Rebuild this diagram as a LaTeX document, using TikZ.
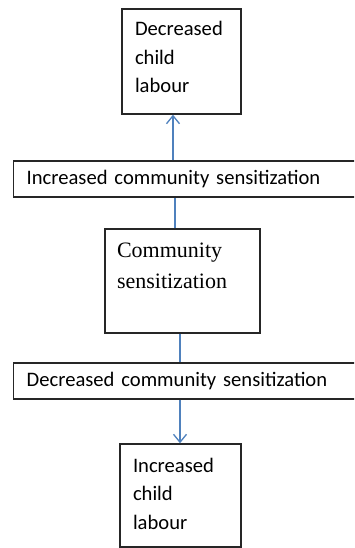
\documentclass[tikz,border=0pt]{standalone}
\usepackage{fontspec}
\newfontfamily\calibfont{Carlito}
\newfontfamily\timesfont{Liberation Serif}
\usetikzlibrary{arrows.meta}
\definecolor{linkblue}{RGB}{79,129,189}

\begin{document}
\begin{tikzpicture}[
    x=1pt, y=-1pt,
    box/.style={draw=black!85, line width=1.4pt, align=left, inner ysep=0pt,
        font=\calibfont\fontsize{20.6}{28.5}\selectfont},
    bar/.style={box, anchor=west, inner xsep=13pt, minimum height=36pt, text width=340pt},
    link/.style={draw=linkblue, line width=1.3pt},
    arrow/.style={link, -{Straight Barb[length=8pt,width=13pt]}}
]
    \clip (0,0) rectangle (354,548);

    % Outcome boxes
    \node[box, inner xsep=13pt, text width=93pt, minimum height=105pt,
        text height=14.5pt, text depth=65.5pt] (decreased) at (181.5,61.5) {Decreased\\child\\labour};
    \node[box, inner xsep=13pt, text width=95pt, minimum height=103pt,
        text height=14.5pt, text depth=61.5pt] (increased) at (180.5,495.5) {Increased\\child\\labour};

    % Central factor
    \node[box, inner xsep=12pt, text width=131pt, minimum height=104pt,
        text height=15pt, text depth=63pt,
        font=\timesfont\fontsize{22}{31}\selectfont] (community) at (182.5,281) {Community\\sensitization};

    % Bars
    \node[bar] (incsens) at (13,179) {Increased community sensitization};
    \node[bar] (decsens) at (13,381) {Decreased community sensitization};

    % Connectors
    \coordinate (upx) at (173,0);
    \coordinate (midx) at (175,0);
    \coordinate (lowx) at (180,0);
    \draw[arrow] (incsens.north -| upx) -- (decreased.south -| upx);
    \draw[link] (community.north -| midx) -- (incsens.south -| midx);
    \draw[link] (community.south -| lowx) -- (decsens.north -| lowx);
    \draw[arrow] (decsens.south -| lowx) -- (increased.north -| lowx);
\end{tikzpicture}
\end{document}
